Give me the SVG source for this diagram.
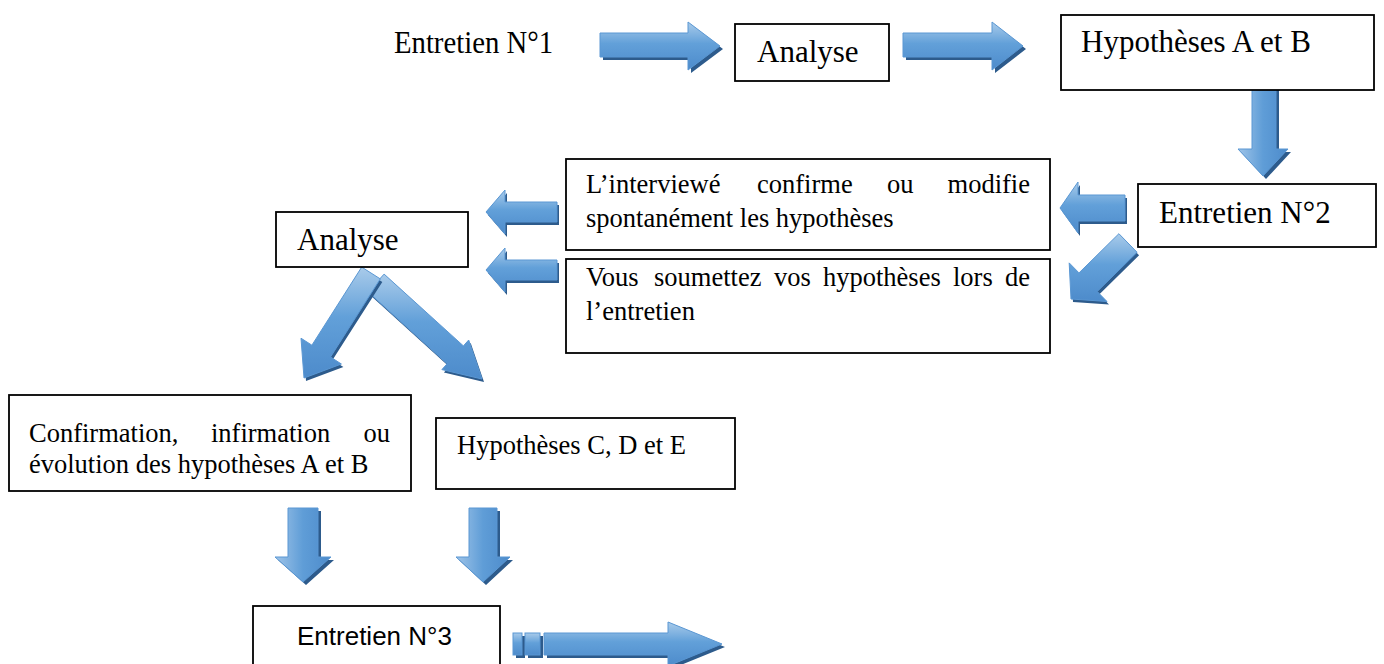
<svg xmlns="http://www.w3.org/2000/svg" width="1384" height="664" viewBox="0 0 1384 664">
<style>
.box{fill:#fff;stroke:#000;stroke-width:1.8}
.t{font-family:"Liberation Serif","Times New Roman",serif;fill:#000}
.big{font-size:31px}
.mid{font-size:26.5px}
.sans{font-family:"Liberation Sans",Arial,sans-serif;font-size:26px;fill:#000}
.ah{fill:url(#gv);stroke:#5a97d3;stroke-width:1}
.av{fill:url(#gh);stroke:#5a97d3;stroke-width:1}
.sh{fill:#2d5b8c}
</style>
<defs>
<linearGradient id="gv" x1="0" y1="0" x2="0" y2="1">
<stop offset="0" stop-color="#a9cbea"/>
<stop offset="0.45" stop-color="#62a0d9"/>
<stop offset="1" stop-color="#4d8bcb"/>
</linearGradient>
<linearGradient id="gh" x1="0" y1="0" x2="1" y2="0">
<stop offset="0" stop-color="#9fc4e8"/>
<stop offset="0.5" stop-color="#5f9dd7"/>
<stop offset="1" stop-color="#4d8bcb"/>
</linearGradient>
</defs>

<g id="connectors">
<!-- A1 -->
<path class="sh" transform="translate(3,3)" d="M600,33 H688 V22 L720,46 L688,70 V57 H600 Z"/>
<path class="ah" d="M600,33 H688 V22 L720,46 L688,70 V57 H600 Z"/>
<!-- A2 -->
<path class="sh" transform="translate(3,3)" d="M903,33 H992 V22 L1023,46 L992,70 V57 H903 Z"/>
<path class="ah" d="M903,33 H992 V22 L1023,46 L992,70 V57 H903 Z"/>
<!-- A3 down -->
<path class="sh" transform="translate(3,3)" d="M1252,87 H1276 V149 H1288 L1263,176 L1238,149 H1252 Z"/>
<path class="av" d="M1252,87 H1276 V149 H1288 L1263,176 L1238,149 H1252 Z"/>
<!-- A4 left -->
<path class="sh" transform="translate(2,3)" d="M1125,195 H1078 V182 L1060,208 L1078,233 V221 H1125 Z"/>
<path class="ah" d="M1125,195 H1078 V182 L1060,208 L1078,233 V221 H1125 Z"/>
<!-- A5 diagonal down-left from Entretien N2 -->
<path class="sh" transform="translate(2,3)" d="M1118.9,233.7 L1079,272.9 L1069.2,262.9 L1071,299 L1107,301.5 L1097.2,291.5 L1137.1,252.3 Z"/>
<path class="ah" d="M1118.9,233.7 L1079,272.9 L1069.2,262.9 L1071,299 L1107,301.5 L1097.2,291.5 L1137.1,252.3 Z"/>
<!-- A6 left -->
<path class="sh" transform="translate(2,3)" d="M557,202 H505 V190 L486,212 L505,234 V222 H557 Z"/>
<path class="ah" d="M557,202 H505 V190 L486,212 L505,234 V222 H557 Z"/>
<!-- A7 left -->
<path class="sh" transform="translate(2,3)" d="M557,260 H505 V248 L486,270 L505,292 V280 H557 Z"/>
<path class="ah" d="M557,260 H505 V248 L486,270 L505,292 V280 H557 Z"/>
<!-- A9 down-right from Analyse -->
<path class="sh" transform="translate(2,3)" d="M368,291.9 L447.2,363.7 L441.9,369.6 L482,379 L468.7,340 L463.4,345.9 L384.1,274.1 Z"/>
<path class="ah" d="M368,291.9 L447.2,363.7 L441.9,369.6 L482,379 L468.7,340 L463.4,345.9 L384.1,274.1 Z"/>
<!-- A8 down-left from Analyse -->
<path class="sh" transform="translate(2,3)" d="M361.7,267.1 L311.9,345.2 L301,338.2 L304,378 L341.4,364 L330.5,357 L380.3,278.9 Z"/>
<path class="ah" d="M361.7,267.1 L311.9,345.2 L301,338.2 L304,378 L341.4,364 L330.5,357 L380.3,278.9 Z"/>
<!-- A10 down -->
<path class="sh" transform="translate(3,3)" d="M288,508 H318 V557 H331 L303,582 L275,557 H288 Z"/>
<path class="av" d="M288,508 H318 V557 H331 L303,582 L275,557 H288 Z"/>
<!-- A11 down -->
<path class="sh" transform="translate(3,3)" d="M469,508 H497 V557 H510 L483,582 L456,557 H469 Z"/>
<path class="av" d="M469,508 H497 V557 H510 L483,582 L456,557 H469 Z"/>
<!-- A12 final striped arrow -->
<g transform="translate(3,3)">
<rect class="sh" x="513" y="633" width="9" height="22"/>
<rect class="sh" x="525" y="633" width="15" height="22"/>
<path class="sh" d="M544,633 H668 V622 L722,644 L668,666 V655 H544 Z"/>
</g>
<rect class="ah" x="513" y="633" width="9" height="22"/>
<rect class="ah" x="525" y="633" width="15" height="22"/>
<path class="ah" d="M544,633 H668 V622 L722,644 L668,666 V655 H544 Z"/>
</g>

<g id="entretien1">
<text class="t big" x="394" y="53" font-size="30" textLength="159" lengthAdjust="spacingAndGlyphs">Entretien N°1</text>
</g>

<g id="analyse1">
<rect class="box" x="735" y="24" width="154" height="57"/>
<text class="t big" x="757" y="62">Analyse</text>
</g>

<g id="hypAB">
<rect class="box" x="1061" y="15" width="313" height="75"/>
<text class="t big" x="1081" y="52">Hypothèses A et B</text>
</g>

<g id="entretien2">
<rect class="box" x="1138" y="184" width="238" height="63"/>
<text class="t big" x="1159" y="223">Entretien N°2</text>
</g>

<g id="interviewe">
<rect class="box" x="566" y="159" width="484" height="91"/>
<text class="t mid" y="193"><tspan x="586">L’interviewé</tspan><tspan x="757">confirme</tspan><tspan x="887">ou</tspan><tspan x="1030" text-anchor="end">modifie</tspan></text>
<text class="t mid" x="586" y="227">spontanément les hypothèses</text>
</g>

<g id="soumettez">
<rect class="box" x="566" y="259" width="484" height="94"/>
<text class="t mid" y="286"><tspan x="586">Vous</tspan><tspan x="654">soumettez</tspan><tspan x="774">vos</tspan><tspan x="823">hypothèses</tspan><tspan x="953">lors</tspan><tspan x="1030" text-anchor="end">de</tspan></text>
<text class="t mid" x="586" y="320">l’entretien</text>
</g>

<g id="analyse2">
<rect class="box" x="276" y="212" width="192" height="55"/>
<text class="t big" x="297" y="250">Analyse</text>
</g>

<g id="confirmation">
<rect class="box" x="9" y="395" width="402" height="96"/>
<text class="t mid" y="442"><tspan x="29">Confirmation,</tspan><tspan x="211">infirmation</tspan><tspan x="390" text-anchor="end">ou</tspan></text>
<text class="t mid" x="29" y="473">évolution des hypothèses A et B</text>
</g>

<g id="hypCDE">
<rect class="box" x="436" y="418" width="299" height="71"/>
<text class="t mid" x="457" y="454">Hypothèses C, D et E</text>
</g>

<g id="entretien3">
<rect class="box" x="253" y="606" width="247" height="70"/>
<text class="sans" x="297" y="645">Entretien N°3</text>
</g>
</svg>
